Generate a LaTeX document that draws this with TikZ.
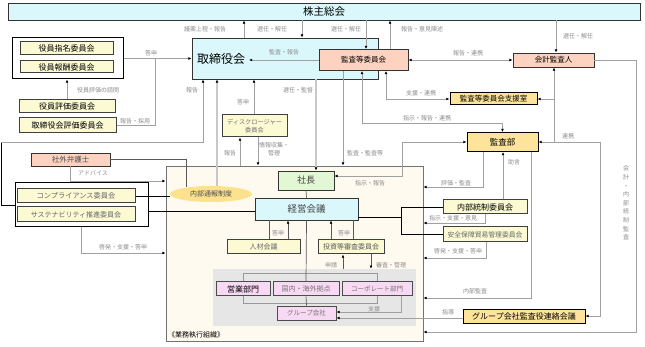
\documentclass[tikz,border=0pt]{standalone}
\usepackage{fontspec}
\newfontfamily\jp{Noto Sans CJK JP}
\usetikzlibrary{arrows.meta,shapes.geometric}
\definecolor{cyanC}{HTML}{DAF8FB}
\definecolor{salC}{HTML}{FDD2C0}
\definecolor{goldC}{HTML}{FEE49A}
\definecolor{ylwC}{HTML}{FBFAD3}
\definecolor{pinkC}{HTML}{F8D9F3}
\definecolor{grnC}{HTML}{E2F8D4}
\definecolor{noteC}{HTML}{FDE28E}
\definecolor{creamC}{HTML}{FFFAF0}
\definecolor{zoneC}{HTML}{E6E6E6}
\definecolor{lineC}{HTML}{A0A0A0}
\definecolor{lineL}{HTML}{C8C8C8}
\definecolor{labC}{HTML}{8C8C8C}
\newcommand\fsz[1]{\fontsize{#1}{#1}\selectfont}
\begin{document}
\begin{tikzpicture}[x=1pt,y=-1pt,
  >={Latex[length=3.2pt,width=2.8pt,color=black]},
  bx/.style={draw=black!80, line width=0.8pt, inner sep=0pt, align=center, font=\jp\fsz{7}},
  cy/.style={bx, fill=cyanC},
  sa/.style={bx, fill=salC},
  go/.style={bx, fill=goldC, draw=black, line width=1pt},
  yl/.style={bx, fill=ylwC, draw=black!75, line width=1pt},
  pk/.style={bx, fill=pinkC, draw=black!70, line width=1pt},
  gn/.style={bx, fill=grnC},
  grp/.style={draw=black, line width=1pt, fill=white, inner sep=0pt},
  lbl/.style={font=\jp\fsz{6}, text=labC, inner sep=0pt, align=center},
  ln/.style={draw=lineC, line width=0.7pt},
  tk/.style={draw=lineL, line width=1.4pt},
  bk/.style={draw=black, line width=0.8pt},
  dk/.style={draw=black!65, line width=0.7pt}]
\useasboundingbox (0,0) rectangle (645,347);
\fill[white] (0,0) rectangle (645,347);

% ---- containers ----
\node[draw=black!55, fill=creamC, line width=0.8pt, minimum width=257pt, minimum height=175pt, inner sep=0pt] (gm) at (294.5,253.5) {};
\node[fill=zoneC, minimum width=203pt, minimum height=57pt, inner sep=0pt] (gz) at (314.5,297.5) {};
\node[draw=black!40, line width=0.6pt, minimum width=134pt, minimum height=30pt, inner sep=0pt] (io) at (310,288) {};
\node[grp, minimum width=111pt, minimum height=41pt] (lg) at (67.5,58.5) {};
\node[grp, minimum width=133pt, minimum height=44pt] (cg) at (81.5,205) {};

% ---- boxes ----
\node[cy, minimum width=632pt, minimum height=17pt, font=\jp\fsz{10.5}] (sh) at (324,11.5) {株主総会};
\node[cy, minimum width=186pt, minimum height=41pt, text width=176pt, align=left, font=\jp\fsz{12}] (tb) at (285,58.5) {取締役会};
\node[sa, minimum width=89pt, minimum height=21pt, font=\jp\fsz{7.5}] (kt) at (363.5,60) {監査等委員会};
\node[sa, minimum width=81pt, minimum height=14pt, font=\jp\fsz{7.5}] (ka) at (553.5,60) {会計監査人};
\node[go, minimum width=87pt, minimum height=12pt, font=\jp\fsz{7.5}] (ks) at (493.5,99) {監査等委員会支援室};
\node[go, minimum width=71pt, minimum height=19pt, font=\jp\fsz{8.5}] (kb) at (502.5,142) {監査部};
\node[yl, minimum width=93pt, minimum height=13pt, font=\jp\fsz{8}] (yn) at (66.5,48.5) {役員指名委員会};
\node[yl, minimum width=93pt, minimum height=12pt, font=\jp\fsz{8}] (yh) at (66.5,67) {役員報酬委員会};
\node[yl, minimum width=96pt, minimum height=13pt, font=\jp\fsz{8}] (yk) at (67,106) {役員評価委員会};
\node[yl, minimum width=97pt, minimum height=15pt, font=\jp\fsz{8}] (th) at (67.5,125.5) {取締役会評価委員会};
\node[sa, minimum width=79pt, minimum height=13pt, font=\jp\fsz{7.5}, text=black!70] (bg) at (70.5,159.5) {社外弁護士};
\node[yl, minimum width=118pt, minimum height=14pt, font=\jp\fsz{7.2}, text=black!60] (cp) at (76,196) {コンプライアンス委員会};
\node[yl, minimum width=118pt, minimum height=15pt, font=\jp\fsz{7}, text=black!60] (ss) at (76,214.5) {サステナビリティ推進委員会};
\node[ellipse, fill=noteC, minimum width=82pt, minimum height=16pt, inner sep=0pt, font=\jp\fsz{7}, text=black!70] (ns) at (211,194) {内部通報制度};
\node[yl, minimum width=65pt, minimum height=22pt, font=\jp\fontsize{6.2}{8}\selectfont, text=black!55] (dc) at (254.5,126) {ディスクロージャー\\委員会};
\node[gn, minimum width=56pt, minimum height=19pt, font=\jp\fsz{9}, text=black!75] (sc) at (306,180.5) {社長};
\node[cy, minimum width=103pt, minimum height=22pt, font=\jp\fsz{9.5}, text=black!75] (kk) at (306.5,209) {経営会議};
\node[yl, minimum width=73pt, minimum height=14pt, font=\jp\fsz{7}, text=black!60] (jk) at (263.5,247) {人材会議};
\node[yl, minimum width=66pt, minimum height=14pt, font=\jp\fsz{7}, text=black!65] (ts) at (351,247) {投資等審査委員会};
\node[pk, minimum width=54pt, minimum height=14pt, font=\jp\fsz{8}] (eb) at (243,289) {営業部門};
\node[pk, minimum width=66pt, minimum height=14pt, font=\jp\fsz{7}, text=black!55] (kn) at (306,289) {国内・海外拠点};
\node[pk, minimum width=70pt, minimum height=14pt, font=\jp\fsz{6.5}, text=black!55] (cb) at (377,289) {コーポレート部門};
\node[pk, minimum width=59pt, minimum height=14pt, font=\jp\fsz{6.5}, text=black!55] (gk) at (306.5,313) {グループ会社};
\node[yl, minimum width=84pt, minimum height=14pt, font=\jp\fsz{8}] (nt) at (485,207) {内部統制委員会};
\node[yl, minimum width=84pt, minimum height=15pt, font=\jp\fsz{6.8}, text=black!60] (ay) at (485,234.5) {安全保障貿易管理委員会};
\node[go, minimum width=122pt, minimum height=14pt, font=\jp\fsz{8}] (gr) at (524,316) {グループ会社監査役連絡会議};
\node[font=\jp\fsz{7}, anchor=west, inner sep=0pt] (gmlab) at (168,335) {《業務執行組織》};

% ---- coordinates ----
\coordinate (tbtxt) at (249,60);
\coordinate (c1) at (1,142);

% ---- connectors: top ----
\draw[ln,->] (tb.north -| 244,0) -- (sh.south -| 244,0);
\draw[ln,->] (sh.south -| 302,0) -- (tb.north -| 302,0);
\draw[ln,->] (sh.south -| 366,0) -- (kt.north -| 366,0);
\draw[ln,->] (kt.north -| 390,0) -- (sh.south -| 390,0);
\draw[ln,->] (sh.south -| 556,0) -- (ka.north -| 556,0);
\draw[ln,->] (kt.west) -- (tbtxt);
\draw[ln,<->] (kt.east) -- (ka.west);
\draw[ln,<->] (kt.south -| 386,0) |- (ks.west);
\draw[ln,<->] (kt.south -| 362,0) -- (362,123) -| (kb.north);
\draw[ln,->] (kt.south -| 343,0) -- (gm.north -| 343,0);
\draw[tk,->] (tb.south -| 316,0) -- (sc.north -| 316,0);
% auditors network
\draw[ln,<-] (ka.south -| 554,0) -- (kb.east -| 554,0);
\draw[ln,->] (ks.east -| 554,0) -- (ks.east);
\draw[ln,->] (kb.east -| 600,0) -- (kb.east);
\draw[ln,->] (kb.east -| 600,0) |- (gr.east);
\draw[ln,->] (ka.east) -- (ka.east -| 636,0) -- (636,332) -- (gm.east |- 0,332);
% president <-> audit dept
\draw[ln,<->] (sc.east |- 0,176) -- (402,176) -- (kb.west -| 402,0) -- (kb.west);
\draw[ln,->] (kb.south -| 483,0) |- (gm.east |- 0,187);
\draw[ln,->] (nt.north -| 503,0) -- (kb.south -| 503,0);
\draw[ln,->] (kb.south -| 531,0) |- (gm.east |- 0,298);
\draw[ln,->] (nt.south -| 485,0) |- (gm.east |- 0,223);
\draw[ln,->] (ay.south -| 486,0) |- (gm.east |- 0,258);
% black lines to committees
\draw[bk] (kk.east |- 0,217) -- (401,217);
\draw[bk] (nt.west) -- (nt.west -| 401,0) -- (ay.west -| 401,0) -- (ay.west);
% group companies
\draw[ln,->] (gr.west |- 0,318) -- (gk.east |- 0,318);
\draw[ln,->] (cb.south -| 401,0) |- (gk.east |- 0,312);
% trunk
\draw[dk] (sc.south) -- (kk.north);
\draw[dk] (kk.south) -- (kn.north);
\draw[dk] (kn.south) -- (gk.north);
\draw[dk] (kk.south -| 269,0) -- (jk.north -| 269,0);
\draw[dk,->] (jk.north -| 288,0) -- (kk.south -| 288,0);
\draw[dk,->] (ts.north -| 331,0) -- (kk.south -| 331,0);
\draw[dk] (kk.south -| 353,0) -- (ts.north -| 353,0);
\draw[dk,->] (gz.north -| 343,0) -- (ts.south -| 343,0);
\draw[dk,->] (ts.south -| 371,0) -- (gz.north -| 371,0);
% disclosure
\draw[ln,->] (dc.north -| 254,0) -- (tb.south -| 254,0);
\draw[ln,->] (gm.north -| 240,0) -- (dc.south -| 240,0);
\draw[ln,->] (dc.south -| 258,0) -- (gm.north -| 258,0);
% whistleblowing
\draw[tk,->] (ns.north -| 217,0) -- (tb.south -| 217,0);
\draw[dk] (bg.east) -| (ns.165);
\draw[ln,->] (bg.south) |- (gm.west |- 0,181);
\draw[bk] (cp.east) -- (cp.east -| ns.west);
\draw[bk] (cg.east |- 0,211) -- (kk.west |- 0,211);
\draw[ln,->] (cg.south) |- (gm.west |- 0,253);
\draw[bk] (cg.west) -- (cg.west -| c1) -- (c1);
\draw[ln,->] (c1) -- (203,142) -- (tb.south -| 203,0);
% left committees
\draw[ln,->] (yk.north) -- (yk.north |- lg.south);
\draw[ln,->] (lg.east) -- (lg.east -| tb.west);
\draw[ln] (th.east) -| (lg.east -| 155,0);

% ---- labels ----
\node[lbl] at (205,29) {議案上程・報告};
\node[lbl] at (272,29) {選任・解任};
\node[lbl] at (346,29) {選任・解任};
\node[lbl] at (422,29) {報告・意見陳述};
\node[lbl] at (578,36) {選任・解任};
\node[lbl] at (284,52) {監査・報告};
\node[lbl] at (468,53) {報告・連携};
\node[lbl] at (151,53) {答申};
\node[lbl] at (98,90) {役員評価の諮問};
\node[lbl] at (192,90) {報告};
\node[lbl] at (298,90) {選任・監督};
\node[lbl] at (243,102) {答申};
\node[lbl] at (421,93) {支援・連携};
\node[lbl] at (427,118) {指示・報告・連携};
\node[lbl] at (135,121) {報告・採用};
\node[lbl] at (568,136) {連携};
\node[lbl] at (230,153) {報告};
\node[lbl, font=\jp\fontsize{6}{8}\selectfont] at (274,149) {情報収集・\\管理};
\node[lbl] at (365,153) {監査・監査等};
\node[lbl] at (514,162) {助言};
\node[lbl] at (93,173) {アドバイス};
\node[lbl] at (370,183) {指示・報告};
\node[lbl] at (456,183) {評価・監査};
\node[lbl] at (453,218) {指示・支援・意見};
\node[lbl] at (278,233) {答申};
\node[lbl] at (344,233) {答申};
\node[lbl] at (123,247) {啓発・支援・答申};
\node[lbl] at (458,251) {啓発・支援・答申};
\node[lbl] at (331,265) {申請};
\node[lbl] at (391,265) {審査・管理};
\node[lbl] at (475,291) {内部監査};
\node[lbl] at (374,309) {支援};
\node[lbl] at (448,312) {指導};
\node[lbl, font=\jp\fontsize{6}{8.6}\selectfont] at (626,203) {会\\計\\・\\内\\部\\統\\制\\監\\査};
\end{tikzpicture}
\end{document}
